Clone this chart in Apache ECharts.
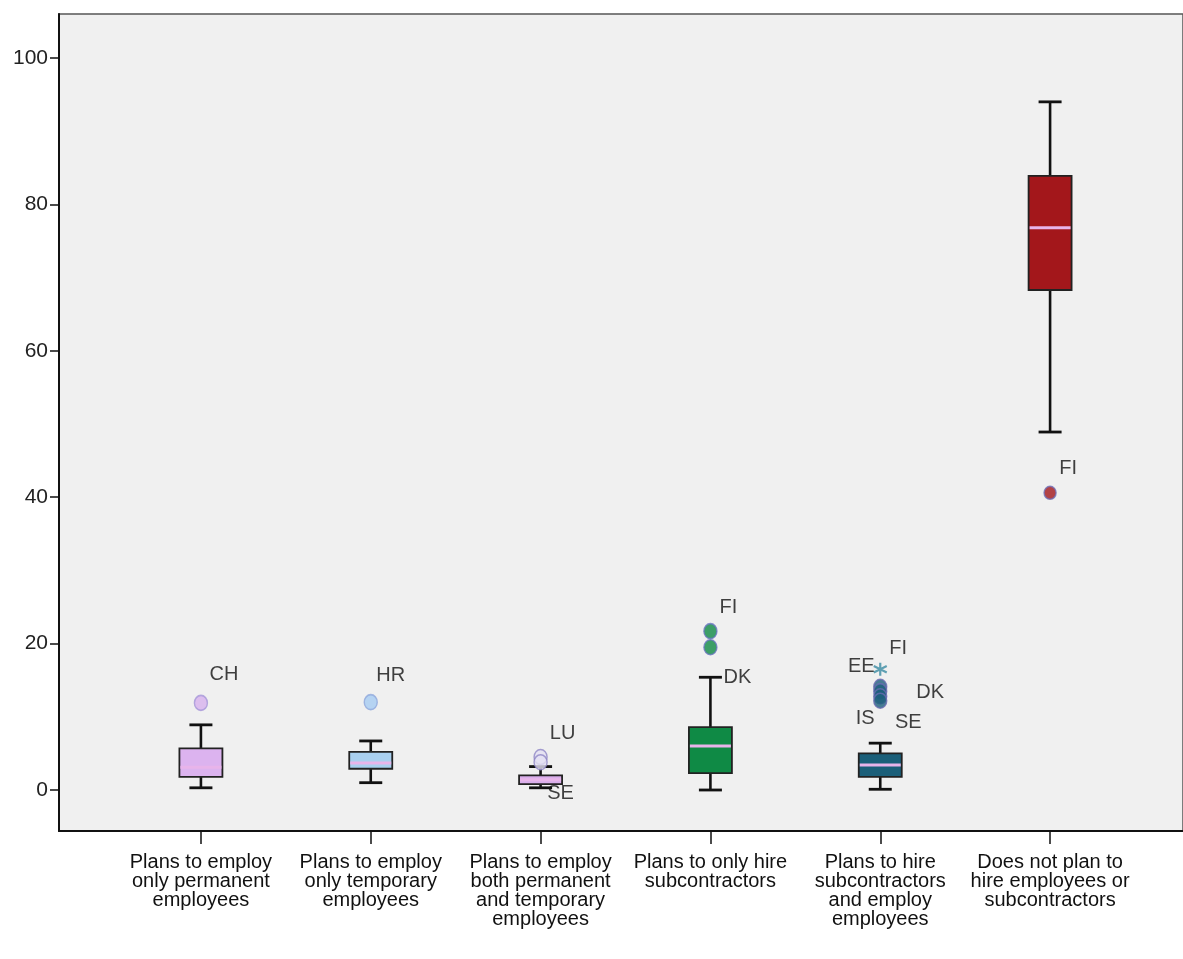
<!DOCTYPE html>
<html>
<head>
<meta charset="utf-8">
<script src="https://cdn.jsdelivr.net/npm/echarts@6/dist/echarts.min.js"></script>
<style>
  html, body { margin: 0; padding: 0; background: #ffffff; }
  #chart { width: 1183px; height: 959px; }
</style>
</head>
<body>
<div id="chart"></div>
<script>
// Box plot data, one entry per hiring-plan group
const categories = [
  'Plans to employ\nonly permanent\nemployees',
  'Plans to employ\nonly temporary\nemployees',
  'Plans to employ\nboth permanent\nand temporary\nemployees',
  'Plans to only hire\nsubcontractors',
  'Plans to hire\nsubcontractors\nand employ\nemployees',
  'Does not plan to\nhire employees or\nsubcontractors'
];
const boxLow    = [0.3, 1.0, 0.3, 0.0, 0.1, 48.9];
const boxQ1     = [1.8, 2.9, 0.8, 2.3, 1.8, 68.3];
const boxMedian = [3.1, 3.7, 1.4, 6.0, 3.4, 76.8];
const boxQ3     = [5.7, 5.2, 2.0, 8.6, 5.0, 83.9];
const boxHigh   = [8.9, 6.7, 3.2, 15.4, 6.4, 94.0];

// Outliers (circle) and extreme values (star)
const outlierCategory = [0, 1, 2, 2, 2, 3, 3, 4, 4, 4, 4, 4, 5];
const outlierValue    = [11.9, 12.0, 4.5, 3.8, 0.3, 21.7, 19.5, 16.5, 14.1, 13.5, 12.8, 12.2, 40.6];
const outlierLabel    = ['CH', 'HR', 'LU', '', 'SE', 'FI', 'DK', 'EE', 'FI', 'DK', 'IS', 'SE', 'FI'];
const outlierKind     = ['o', 'o', 'o', 'o', 'o', 'o', 'o', '*', 'o', 'o', 'o', 'o', 'o'];

const yTicks = [0, 20, 40, 60, 80, 100];

// Styling
const boxFill = ['#dcb3ef', '#a9d0f0', '#d9aeea', '#0f8a45', '#1b5f79', '#a3171b'];
const pointFill = ['#d7b2ee', '#a6ccf2', '#e4e0f2', '#0f8a45', '#1d5f7c', '#a3171b'];
const pointBorder = ['#a596d8', '#8fa8dc', '#8e86c6', '#6a76c0', '#6a6cb2', '#6f6fb6'];
const medianColor = '#e8b4ea';
const labelOffsets = [
  [23, -28], [20, -27], [22, -24], [0, 0], [20, 6], [18, -24], [27, 30],
  [-19, -3], [18, -38], [50, 1], [-15, 22], [28, 22], [18, -24]
];
const FONT = '"Liberation Sans", Arial, sans-serif';

const starPath = 'path://M5,0 L5,10 M0.7,2.5 L9.3,7.5 M0.7,7.5 L9.3,2.5';

const boxData = categories.map((c, i) => [i, boxLow[i], boxQ1[i], boxMedian[i], boxQ3[i], boxHigh[i]]);

const outlierData = outlierValue.map((v, k) => {
  const c = outlierCategory[k];
  const isStar = outlierKind[k] === '*';
  let size = [13, 15];
  if (isStar) size = 13;
  else if (c === 2 && outlierLabel[k] === 'SE') size = 0;
  else if (c === 5) size = [12, 13];
  return {
    value: [c, v],
    name: outlierLabel[k],
    symbol: isStar ? starPath : 'circle',
    symbolSize: size,
    itemStyle: isStar
      ? { color: 'none', borderColor: '#3a8ba3', borderWidth: 2.2 }
      : { color: pointFill[c], borderColor: pointBorder[c], borderWidth: 1.5 },
    label: { show: outlierLabel[k] !== '', offset: labelOffsets[k] }
  };
});

function renderBox(params, api) {
  const i = api.value(0);
  const x = api.coord([i, 0])[0];
  const yLow = api.coord([i, api.value(1)])[1];
  const yQ1 = api.coord([i, api.value(2)])[1];
  const yMed = api.coord([i, api.value(3)])[1];
  const yQ3 = api.coord([i, api.value(4)])[1];
  const yHigh = api.coord([i, api.value(5)])[1];
  const half = 21.5;
  const cap = 11.5;
  const lineStyle = { stroke: '#111', lineWidth: 2.6 };
  return {
    type: 'group',
    children: [
      { type: 'line', shape: { x1: x, y1: yLow, x2: x, y2: yQ1 }, style: lineStyle },
      { type: 'line', shape: { x1: x, y1: yQ3, x2: x, y2: yHigh }, style: lineStyle },
      { type: 'line', shape: { x1: x - cap, y1: yLow, x2: x + cap, y2: yLow }, style: { stroke: '#111', lineWidth: 2.8 } },
      { type: 'line', shape: { x1: x - cap, y1: yHigh, x2: x + cap, y2: yHigh }, style: { stroke: '#111', lineWidth: 2.8 } },
      { type: 'rect', shape: { x: x - half, y: yQ3, width: half * 2, height: yQ1 - yQ3 },
        style: { fill: boxFill[i], stroke: '#222', lineWidth: 1.8 } },
      { type: 'line', shape: { x1: x - half + 1, y1: yMed, x2: x + half - 1, y2: yMed },
        style: { stroke: medianColor, lineWidth: 3 } }
    ]
  };
}

const yMin = -5.6, yMax = 106;

const chart = echarts.init(document.getElementById('chart'), null, { renderer: 'canvas' });
chart.setOption({
  backgroundColor: '#ffffff',
  animation: false,
  textStyle: { fontFamily: FONT },
  grid: [
    { left: 59, top: 14, width: 1133, height: 817, show: true, backgroundColor: '#f0f0f0',
      borderColor: '#555', borderWidth: 1.5 },
    { left: 116, top: 14, width: 1019, height: 817 }
  ],
  xAxis: [
    { type: 'value', gridIndex: 0, min: 0, max: 1, show: true,
      axisLine: { show: true, onZero: false, lineStyle: { color: '#111', width: 2 } },
      axisTick: { show: false }, axisLabel: { show: false }, splitLine: { show: false } },
    { type: 'category', gridIndex: 1, data: categories, boundaryGap: true,
      axisLine: { show: false, onZero: false },
      axisTick: { show: true, alignWithLabel: true, length: 13, inside: false,
                  lineStyle: { color: '#111', width: 1.5 } },
      axisLabel: { show: true, interval: 0, margin: 22, color: '#111', fontSize: 20,
                   lineHeight: 19, fontFamily: FONT, align: 'center' },
      splitLine: { show: false } }
  ],
  yAxis: [
    { type: 'value', gridIndex: 0, min: yMin, max: yMax,
      axisLine: { show: true, onZero: false, lineStyle: { color: '#111', width: 2 } },
      axisTick: { show: true, length: 9, customValues: yTicks, lineStyle: { color: '#111', width: 1.5 } },
      axisLabel: { show: true, customValues: yTicks, color: '#222', fontSize: 21, margin: 11,
                   fontFamily: FONT },
      splitLine: { show: false } },
    { type: 'value', gridIndex: 1, min: yMin, max: yMax, show: false, splitLine: { show: false } }
  ],
  series: [
    { type: 'custom', xAxisIndex: 1, yAxisIndex: 1, renderItem: renderBox,
      encode: { x: 0, y: [1, 2, 3, 4, 5] }, data: boxData, z: 3 },
    { type: 'scatter', xAxisIndex: 1, yAxisIndex: 1, data: outlierData, z: 4,
      label: { show: true, position: 'inside', formatter: '{b}', color: '#111',
               fontSize: 20, fontFamily: FONT } }
  ]
});
</script>
</body>
</html>
